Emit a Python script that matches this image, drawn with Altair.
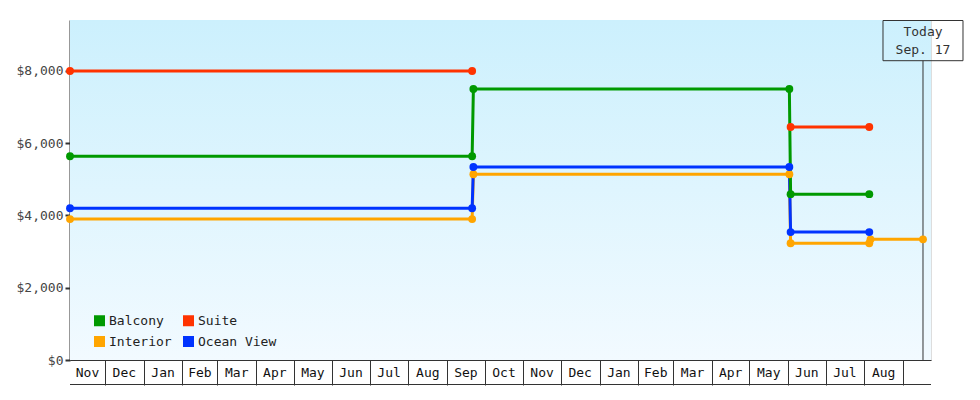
import altair as alt
import pandas as pd

# ---------------- data ----------------
legend_order = ["Balcony", "Interior", "Suite", "Ocean View"]
legend_colors = ["#009900", "#ffa500", "#ff3300", "#0033ff"]

interior_dates = ["2016-11-03", "2017-09-21", "2017-09-22", "2018-06-02",
                  "2018-06-03", "2018-08-05", "2018-08-06", "2018-09-17"]
interior_prices = [3900, 3900, 5140, 5140, 3230, 3230, 3340, 3340]
interior_segments = [1, 1, 1, 1, 1, 1, 1, 1]

ocean_dates = ["2016-11-03", "2017-09-21", "2017-09-22", "2018-06-02",
               "2018-06-03", "2018-08-05"]
ocean_prices = [4200, 4200, 5340, 5340, 3540, 3540]
ocean_segments = [1, 1, 1, 1, 1, 1]

balcony_dates = ["2016-11-03", "2017-09-21", "2017-09-22", "2018-06-02",
                 "2018-06-03", "2018-08-05"]
balcony_prices = [5640, 5640, 7500, 7500, 4590, 4590]
balcony_segments = [1, 1, 1, 1, 1, 1]

suite_dates = ["2016-11-03", "2017-09-21", "2018-06-03", "2018-08-05"]
suite_prices = [8000, 8000, 6450, 6450]
suite_segments = [1, 1, 2, 2]

month_labels = ["Nov", "Dec", "Jan", "Feb", "Mar", "Apr", "May", "Jun", "Jul",
                "Aug", "Sep", "Oct", "Nov", "Dec", "Jan", "Feb", "Mar", "Apr",
                "May", "Jun", "Jul", "Aug"]
first_month = "2016-11-01"
axis_start = "2016-11-03"
axis_end = "2018-09-23T10:00:00"
today_date = "2018-09-17"
today_line1 = "Today"
today_line2 = "Sep. 17"
y_ticks = [0, 2000, 4000, 6000, 8000]
y_max = 9410

# ---------------- tables ----------------
rows = []
for name, ds, ps, ss in [
    ("Interior", interior_dates, interior_prices, interior_segments),
    ("Ocean View", ocean_dates, ocean_prices, ocean_segments),
    ("Balcony", balcony_dates, balcony_prices, balcony_segments),
    ("Suite", suite_dates, suite_prices, suite_segments),
]:
    for d, p, s in zip(ds, ps, ss):
        rows.append({"series": name, "date": d, "price": p, "seg": f"{name}-{s}"})
df = pd.DataFrame(rows)


def ms(s):
    return int(pd.Timestamp(s).timestamp() * 1000)


starts = pd.date_range(first_month, periods=len(month_labels) + 1, freq="MS")
ax0 = pd.Timestamp(axis_start)
label_rows = []
for i, lab in enumerate(month_labels):
    a = max(starts[i], ax0)
    b = starts[i + 1]
    mid = a + (b - a) / 2
    label_rows.append({"date": mid.strftime("%Y-%m-%dT%H:%M:%SZ"), "label": lab})
labels_df = pd.DataFrame(label_rows)
tick_values = [ms(t) for t in starts[1:]]

today_df = pd.DataFrame({"date": [today_date]})

W, H = 861, 340
FONT = "DejaVu Sans Mono"

xscale = alt.Scale(type="utc", domain=[ms(axis_start), ms(axis_end)])
yscale = alt.Scale(domain=[0, y_max], nice=False, zero=True)

xaxis = alt.Axis(values=tick_values, labels=False, tickSize=25, tickWidth=1,
                 tickColor="#333333", domainColor="#333333", domainWidth=1,
                 grid=False, title=None)
yaxis = alt.Axis(values=y_ticks, format="$,.0f", tickSize=5, tickWidth=2,
                 tickColor="#333333", domainColor="#333333", domainWidth=2,
                 labelFont=FONT, labelFontSize=13, labelColor="#444444",
                 labelPadding=2, grid=False, title=None)

cscale = alt.Scale(domain=legend_order, range=legend_colors)
legend = alt.Legend(
    orient="none", legendX=23, legendY=294, columns=2, symbolType="square",
    symbolSize=121, symbolStrokeWidth=0, symbolOpacity=1,
    labelFont=FONT, labelFontSize=13, labelColor="#222222", labelOffset=3,
    rowPadding=7, columnPadding=10, padding=0, title=None)

bg = alt.Chart(alt.Data(values=[{}])).mark_rect(
    fill=alt.Gradient(gradient="linear", x1=0, x2=0, y1=0, y2=1,
                      stops=[alt.GradientStop(color="#ccf0fd", offset=0),
                             alt.GradientStop(color="#f2faff", offset=1)]),
).encode(x=alt.value(0), x2=alt.value(W), y=alt.value(0), y2=alt.value(H))

today_rule = alt.Chart(today_df).mark_rule(color="#333333", strokeWidth=1).encode(
    x=alt.X("date:T", scale=xscale),
    y=alt.value(40.7), y2=alt.value(H))

today_box = alt.Chart(today_df).mark_rect(
    fillOpacity=0, stroke="#333333", strokeWidth=1, xOffset=-40, x2Offset=40
).encode(x=alt.X("date:T", scale=xscale), x2="date:T",
         y=alt.value(0.5), y2=alt.value(40.7))

today_text1 = alt.Chart(today_df).mark_text(
    font=FONT, fontSize=13, color="#333333", align="center", baseline="middle",
    text=today_line1
).encode(x=alt.X("date:T", scale=xscale), y=alt.value(12))

today_text2 = alt.Chart(today_df).mark_text(
    font=FONT, fontSize=13, color="#333333", align="center", baseline="middle",
    text=today_line2
).encode(x=alt.X("date:T", scale=xscale), y=alt.value(30))

lines = alt.Chart(df).mark_line(strokeWidth=3).encode(
    x=alt.X("date:T", scale=xscale, axis=xaxis),
    y=alt.Y("price:Q", scale=yscale, axis=yaxis),
    color=alt.Color("series:N", scale=cscale, legend=legend),
    detail="seg:N",
)

points = alt.Chart(df).mark_circle(size=62, opacity=1).encode(
    x=alt.X("date:T", scale=xscale),
    y=alt.Y("price:Q", scale=yscale),
    color=alt.Color("series:N", scale=cscale, legend=legend),
)

month_text = alt.Chart(labels_df).mark_text(
    font=FONT, fontSize=13, color="#111111", align="center", baseline="middle"
).encode(x=alt.X("date:T", scale=xscale), y=alt.value(353), text="label:N")

bottom_rule = alt.Chart(alt.Data(values=[{}])).mark_rule(
    color="#333333", strokeWidth=1
).encode(x=alt.value(0), x2=alt.value(W), y=alt.value(364.5))

chart = alt.layer(
    bg, today_rule, lines, points, today_box, today_text1, today_text2,
    month_text, bottom_rule
).properties(
    width=W, height=H,
    autosize=alt.AutoSizeParams(type="none"),
    padding={"left": 62, "top": 12, "right": 41, "bottom": 26},
).configure_view(stroke=None).configure(font=FONT, background="white")

chart.save("out.html", embed_options={"renderer": "svg", "actions": False})
